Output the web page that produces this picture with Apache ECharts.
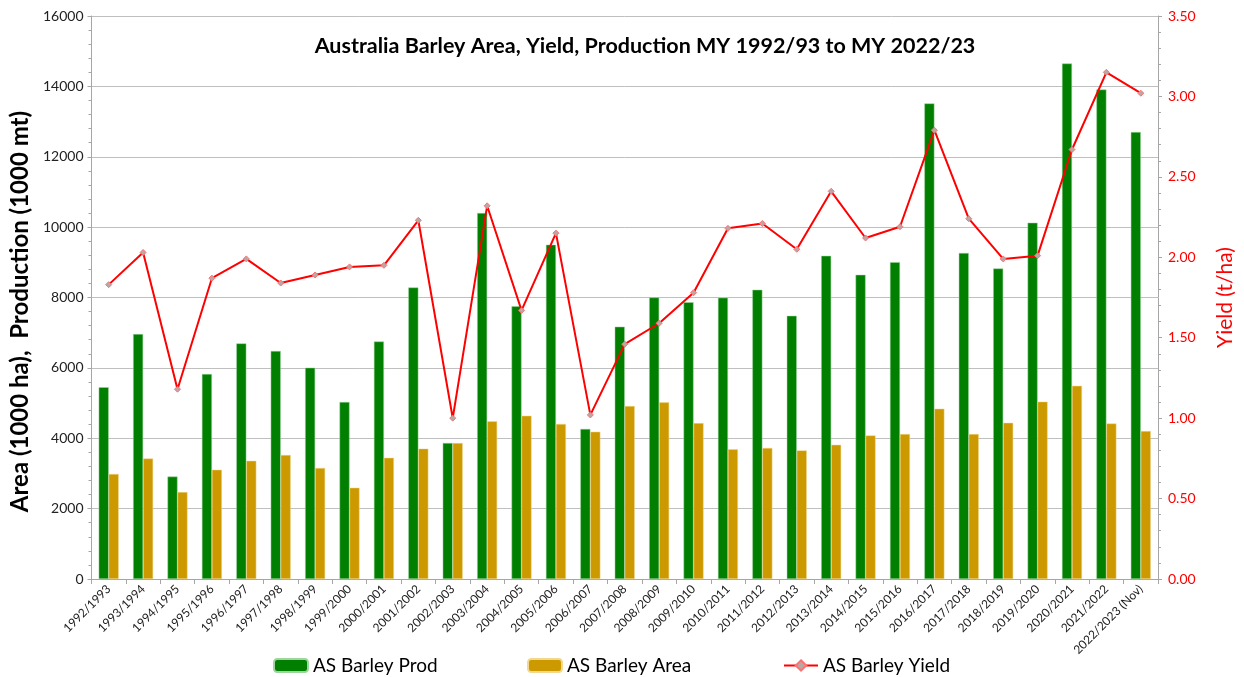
<!DOCTYPE html>
<html><head><meta charset="utf-8">
<script src="https://cdn.jsdelivr.net/npm/echarts@6/dist/echarts.min.js"></script>
<style>html,body{margin:0;padding:0;background:#fff}#c{width:1244px;height:677px}</style>
</head><body><div id="c"></div>
<script>
const categories = ["1992/1993","1993/1994","1994/1995","1995/1996","1996/1997","1997/1998","1998/1999","1999/2000","2000/2001","2001/2002","2002/2003","2003/2004","2004/2005","2005/2006","2006/2007","2007/2008","2008/2009","2009/2010","2010/2011","2011/2012","2012/2013","2013/2014","2014/2015","2015/2016","2016/2017","2017/2018","2018/2019","2019/2020","2020/2021","2021/2022","2022/2023 (Nov)"];
const prodValues = [5450,6960,2910,5825,6695,6480,6005,5030,6750,8285,3865,10400,7750,9500,4265,7170,8000,7865,7995,8220,7480,9185,8645,9005,13515,9265,8825,10125,14650,13910,12700];
const areaValues = [2985,3425,2470,3105,3360,3525,3155,2595,3445,3705,3865,4480,4640,4405,4185,4915,5020,4430,3685,3725,3655,3815,4080,4120,4840,4120,4440,5040,5490,4420,4205];
const yieldValues = [1.83,2.03,1.18,1.87,1.99,1.84,1.89,1.94,1.95,2.23,1.00,2.32,1.67,2.15,1.02,1.46,1.59,1.78,2.18,2.21,2.05,2.41,2.12,2.19,2.79,2.24,1.99,2.01,2.67,3.15,3.02];
const seriesNames = ["AS Barley Prod","AS Barley Area","AS Barley Yield"];
const titleText = "Australia Barley Area, Yield, Production MY 1992/93 to MY 2022/23";

const FONT = "Lato";
const chart = echarts.init(document.getElementById('c'), null, {renderer:'canvas'});
const legendText = {fontFamily:FONT,fontSize:19,color:'#000'};
chart.setOption({
  animation:false,
  backgroundColor:'#fff',
  title:{text:titleText,left:640,top:30,textAlign:'center',
    textStyle:{fontFamily:FONT,fontSize:21.5,fontWeight:'bold',color:'#000'}},
  grid:{left:89,right:79,top:16,bottom:98,containLabel:false},
  legend:[
    {data:[seriesNames[0]],left:268,top:651,itemWidth:34,itemHeight:13,itemGap:5,textStyle:legendText},
    {data:[seriesNames[1]],left:522,top:651,itemWidth:34,itemHeight:13,itemGap:5,textStyle:legendText},
    {data:[seriesNames[2]],left:778,top:651,itemWidth:34,itemHeight:13,itemGap:5,textStyle:legendText}
  ],
  xAxis:{type:'category',data:categories,boundaryGap:true,
    axisLine:{lineStyle:{color:'#a6a6a6'}},
    axisTick:{show:true,alignWithLabel:false,length:5,lineStyle:{color:'#a6a6a6'}},
    axisLabel:{rotate:45,interval:0,fontFamily:FONT,fontSize:12,color:'#222',margin:8}},
  yAxis:[
    {type:'value',min:0,max:16000,interval:2000,position:'left',
     name:'Area (1000 ha),  Production (1000 mt)',nameLocation:'middle',nameGap:54,nameRotate:90,
     nameTextStyle:{fontFamily:FONT,fontSize:24,fontWeight:'bold',color:'#000',padding:[0,28,0,0]},
     axisLine:{show:true,lineStyle:{color:'#a6a6a6'}},
     axisTick:{show:true,length:4,lineStyle:{color:'#a6a6a6'}},
     minorTick:{show:true,splitNumber:5,length:3,lineStyle:{color:'#a6a6a6'}},
     axisLabel:{fontFamily:FONT,fontSize:14,color:'#222',margin:8,formatter:v=>String(v)},
     splitLine:{show:true,lineStyle:{color:'#bfbfbf',width:1}}},
    {type:'value',min:0,max:3.5,interval:0.5,position:'right',
     name:'Yield (t/ha)',nameLocation:'middle',nameGap:57,nameRotate:90,
     nameTextStyle:{fontFamily:FONT,fontSize:21,color:'#ff0000'},
     axisLine:{show:true,lineStyle:{color:'#a6a6a6'}},
     axisTick:{show:true,length:4,lineStyle:{color:'#a6a6a6'}},
     minorTick:{show:true,splitNumber:5,length:3,lineStyle:{color:'#a6a6a6'}},
     axisLabel:{fontFamily:FONT,fontSize:14,color:'#ff0000',margin:10,formatter:v=>v.toFixed(2)},
     splitLine:{show:false}}
  ],
  series:[
    {name:seriesNames[0],type:'bar',yAxisIndex:0,data:prodValues,barWidth:10,barGap:'0%',
     itemStyle:{color:'#007f00',borderColor:'#9ed49e',borderWidth:0.5}},
    {name:seriesNames[1],type:'bar',yAxisIndex:0,data:areaValues,barWidth:10,barGap:'0%',
     itemStyle:{color:'#cc9900',borderColor:'#f0d890',borderWidth:0.5}},
    {name:seriesNames[2],type:'line',yAxisIndex:1,data:yieldValues,
     symbol:'diamond',symbolSize:6,
     lineStyle:{color:'#ff0000',width:2},
     itemStyle:{color:'#b8a8a8',borderColor:'#ff7070',borderWidth:1}}
  ]
});
</script></body></html>
